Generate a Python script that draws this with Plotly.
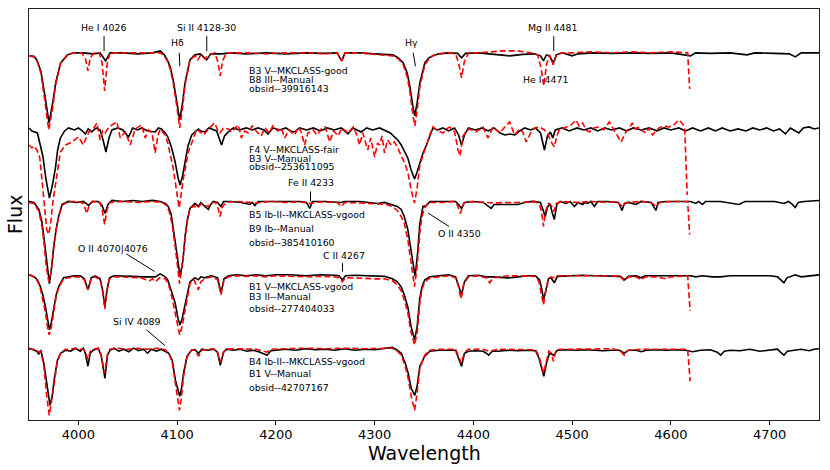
import plotly.graph_objects as go

# ---------------- data (wavelength [A], normalised flux) ----------------
ROW1_BLACK = [(3950,0.97),(3955,0.965),(3958,0.93),(3962,0.82),(3966,0.58),(3970.3,0.30),(3974,0.50),(3977,0.70),
    (3982,0.90),(3989,0.98),(3995,1.0),(4005,1.0),(4015,0.99),(4022,1.0),(4027.6,0.92),(4032,1.0),(4045,1.0),
    (4060,0.99),(4075,1.0),(4083,1.02),(4087,0.98),(4090,0.93),(4093,0.86),(4096,0.73),(4099.5,0.52),(4102.6,0.33),
    (4105.5,0.50),(4108,0.70),(4113,0.93),(4118,0.98),(4123.5,0.99),(4130,0.93),(4134,0.99),(4145,0.99),(4155,1.0),
    (4170,0.99),(4190,1.0),(4210,0.99),(4230,1.0),(4250,0.995),(4262,1.0),(4266.7,0.92),(4270,1.0),(4285,1.0),
    (4300,0.99),(4312,0.98),(4318.5,0.98),(4324,0.95),(4329,0.90),(4333,0.80),(4335.6,0.67),(4338.5,0.48),
    (4340.7,0.37),(4343,0.50),(4345.8,0.70),(4350.8,0.90),(4355,0.95),(4359,0.97),(4365,0.99),(4375,1.0),
    (4384,0.995),(4388,0.95),(4392,0.995),(4405,1.0),(4415,0.99),(4425,0.975),(4437,0.97),(4450,0.985),
    (4462,0.99),(4468,0.97),(4471,0.92),(4474,0.98),(4477,0.97),(4481,0.90),(4484,0.98),(4490,1.0),(4500,0.97),
    (4506,0.99),(4520,1.0),(4540,0.995),(4560,1.0),(4580,0.995),(4600,1.0),(4620,0.97),(4625,1.0),(4640,0.995),
    (4660,1.0),(4677,0.98),(4685,1.0),(4705,0.995),(4720,0.99),(4726,0.96),(4732,1.0),(4750,1.0)]
ROW1_RED = [(3950,0.97),(3955,0.96),(3958,0.92),(3962,0.80),(3966,0.52),(3970,0.23),(3974,0.45),(3977,0.68),
    (3982,0.90),(3989,0.98),(3995,1.0),(4003,1.0),(4007,0.95),(4009.7,0.82),(4012,0.95),(4016,1.0),(4021,1.0),
    (4024,0.90),(4026.6,0.62),(4029,0.88),(4032,1.0),(4045,1.0),(4060,0.995),(4075,1.0),(4083,1.0),(4087,0.97),
    (4090,0.92),(4093,0.84),(4096,0.70),(4099.5,0.48),(4102.6,0.25),(4105.5,0.45),(4108,0.68),(4113,0.93),
    (4118,0.97),(4121,0.93),(4124,0.98),(4128,0.94),(4131,0.97),(4138,1.0),(4141,0.92),(4143.7,0.77),(4146,0.92),
    (4150,1.0),(4170,1.0),(4190,0.99),(4210,1.0),(4230,1.0),(4250,0.99),(4262,1.0),(4266.7,0.92),(4270,1.0),
    (4285,1.0),(4300,0.985),(4312,0.975),(4318,0.97),(4324,0.94),(4329,0.88),(4333,0.76),(4335.6,0.62),
    (4338.5,0.40),(4340.7,0.27),(4343,0.42),(4345.8,0.66),(4350.8,0.88),(4355,0.94),(4359,0.97),(4365,0.99),
    (4375,1.0),(4382,0.99),(4385,0.90),(4388,0.75),(4391,0.92),(4395,1.0),(4405,1.0),(4415,1.01),(4430,1.02),
    (4445,1.02),(4458,1.0),(4465,0.98),(4468.5,0.85),(4471.3,0.67),(4474,0.88),(4477,0.98),(4481,0.88),(4484,0.98),
    (4490,1.0),(4500,1.0),(4520,1.01),(4540,1.0),(4560,1.01),(4580,1.0),(4600,1.01),(4617,1.0),(4619,0.64)]

ROW2_BLACK = [(3950,1.0),(3953,0.97),(3958.5,0.95),(3961,0.85),(3964,0.72),(3967,0.50),(3970.7,0.30),(3973.5,0.42),
    (3976.8,0.60),(3979,0.78),(3981.8,0.90),(3986,0.97),(3990,1.0),(3996,0.98),(4000,1.0),(4004,0.97),(4007,0.94),
    (4010,0.99),(4013.5,0.96),(4018,1.0),(4022,0.98),(4025,0.88),(4027.9,0.76),(4031,0.90),(4034,0.98),(4040,1.0),
    (4045,0.98),(4050.8,0.91),(4055,1.0),(4060,0.98),(4064,1.0),(4070,0.97),(4077.8,0.96),(4081,1.0),(4084,0.99),
    (4088,0.95),(4091,0.90),(4094.5,0.80),(4098,0.66),(4101,0.50),(4103,0.43),(4105.5,0.52),(4108,0.66),(4111,0.82),
    (4114.8,0.93),(4121.5,0.99),(4124,0.97),(4128,0.96),(4132,1.0),(4135,0.99),(4140,0.97),(4142.5,0.90),(4145,0.83),
    (4148,0.92),(4151.8,0.96),(4157,1.0),(4163,0.98),(4170,1.0),(4176,0.98),(4182,1.0),(4188,0.98),(4192,0.94),
    (4197,1.0),(4204,0.98),(4210,1.0),(4215,0.97),(4219,0.96),(4224,1.0),(4231,0.98),(4238,1.0),(4245,0.97),
    (4252,1.0),(4259,0.98),(4266,1.0),(4273,0.94),(4278,1.0),(4286.5,0.96),(4292,1.0),(4298,0.98),(4305,1.0),
    (4310,0.98),(4313.4,0.96),(4316,0.95),(4320,0.91),(4323.5,0.88),(4326.9,0.83),(4330,0.77),(4333.6,0.70),
    (4337,0.58),(4340.4,0.49),(4343,0.56),(4345.8,0.66),(4349,0.75),(4352.5,0.83),(4356,0.93),(4359,1.0),
    (4364,0.98),(4369,1.0),(4375,0.97),(4381,1.0),(4385,0.93),(4388,0.83),(4391,0.93),(4395,1.0),(4402,0.98),
    (4409,1.0),(4415,0.97),(4421,1.0),(4427,0.95),(4432,0.93),(4437,0.94),(4442,0.93),(4447,0.97),(4452,1.0),
    (4458,0.98),(4463,1.0),(4468,0.95),(4472,0.78),(4475,0.92),(4478,0.96),(4480.4,0.90),(4483,0.98),(4490,1.0),
    (4497,0.97),(4505,1.0),(4512,0.98),(4519,1.0),(4526,0.97),(4533,1.0),(4540,0.98),(4548,1.0),(4555,0.97),
    (4562,1.0),(4570,0.98),(4578,1.0),(4586,0.97),(4593,1.0),(4600,0.98),(4608,1.0),(4615,0.97),(4622,1.0),
    (4630,0.97),(4638,1.0),(4645,0.97),(4652,1.0),(4660,0.97),(4668,0.99),(4676,0.97),(4683,1.0),(4690,0.98),
    (4697,1.0),(4704,0.97),(4710,0.99),(4716,0.94),(4721,1.0),(4725,0.98),(4729.6,0.95),(4734,1.0),(4740,1.01),
    (4745,0.99),(4750,1.0)]
ROW2_RED = [(3950,0.83),(3953,0.80),(3955,0.82),(3958,0.78),(3961,0.70),(3963.5,0.45),(3966,0.15),(3968,-0.02),
    (3970,-0.06),(3972,0.05),(3974,0.25),(3976.8,0.43),(3979,0.62),(3981.8,0.76),(3987,0.83),(3993.5,0.86),
    (4000,0.91),(4005,0.83),(4008.5,0.92),(4012,0.98),(4015.5,1.0),(4018.8,1.05),(4022,0.88),(4024.5,0.97),
    (4027,0.95),(4030.5,1.0),(4034,1.03),(4039,1.06),(4042.4,0.90),(4047.5,0.96),(4052.5,0.83),(4057.6,0.99),
    (4064,1.03),(4067.7,0.90),(4071,0.98),(4074.5,0.95),(4077.8,0.75),(4080.5,0.92),(4082.8,0.99),(4087.9,0.93),
    (4090.5,0.85),(4093,0.73),(4096,0.60),(4099,0.40),(4102,0.20),(4104,0.33),(4106.4,0.50),(4111.4,0.76),
    (4116.5,0.91),(4120,0.99),(4123,0.96),(4127,0.93),(4131.6,0.99),(4135,1.02),(4138,1.05),(4141,0.98),
    (4143.4,0.95),(4147,1.0),(4151.8,0.99),(4155,0.96),(4158.6,1.0),(4162,1.03),(4165,0.90),(4168.5,0.97),
    (4172,0.95),(4176,1.02),(4180,0.97),(4185,0.92),(4189,1.0),(4193,0.95),(4197,1.02),(4202,0.97),(4205.5,1.0),
    (4209,0.90),(4213,0.98),(4219,0.93),(4223,1.01),(4226,0.95),(4229,0.83),(4232.5,0.95),(4237.7,0.98),
    (4241.5,0.93),(4246,0.99),(4250,1.01),(4254.5,0.86),(4258.5,0.97),(4263,0.92),(4267,1.0),(4273,0.95),
    (4278.5,1.01),(4282,0.93),(4284.8,0.83),(4288,0.95),(4291,0.84),(4293,0.78),(4296,0.90),(4300,0.71),
    (4303,0.85),(4305,0.83),(4307.5,0.92),(4310,0.75),(4313,0.88),(4316.8,0.83),(4320,0.86),(4323.5,0.80),
    (4327,0.72),(4330,0.66),(4333.6,0.56),(4337,0.38),(4340.4,0.25),(4343,0.40),(4345.8,0.63),(4349,0.73),
    (4351,0.80),(4355.9,0.93),(4359,1.01),(4364,0.97),(4369.3,0.95),(4373,0.99),(4376,1.01),(4381,0.96),
    (4384.5,0.78),(4386.5,0.72),(4389.5,0.92),(4393,0.97),(4396,0.99),(4403,0.96),(4409.7,1.01),(4414.8,0.90),
    (4419.8,1.01),(4426.6,0.95),(4431,1.0),(4436.7,1.06),(4441.7,0.93),(4446.8,0.99),(4450,0.96),(4453.5,0.86),
    (4458.6,0.96),(4462,1.0),(4467,1.01),(4472,0.98),(4475,0.95),(4478.8,0.86),(4482,0.81),(4484.5,0.92),
    (4487,0.98),(4494,1.01),(4499,1.03),(4504,1.08),(4507,1.02),(4510.7,1.05),(4514,0.98),(4517.5,0.96),
    (4522,1.0),(4527.6,1.01),(4532,0.98),(4537.7,1.06),(4542.7,0.98),(4546,0.93),(4549.5,0.86),(4554.5,0.96),
    (4558,1.0),(4561,1.05),(4564,0.99),(4568,1.01),(4571,0.97),(4574.7,0.95),(4578,1.0),(4581.4,0.93),
    (4585,0.97),(4588,1.0),(4593,1.02),(4598,1.01),(4603,1.03),(4608,1.08),(4612,1.04),(4614,1.0),(4616.5,0.33)]

ROW3_BLACK = [(3950,1.0),(3955,0.99),(3960,0.92),(3963,0.80),(3965,0.65),(3968,0.38),(3970.7,0.18),(3973,0.35),
    (3975,0.55),(3977.5,0.72),(3980,0.85),(3983.5,0.97),(3990,1.0),(3998,0.99),(4005,1.0),(4010.4,0.96),(4014,1.0),
    (4020,1.0),(4024,0.96),(4027,0.88),(4030,0.97),(4034,1.01),(4045,1.0),(4055,1.01),(4065,1.0),(4075,1.01),
    (4083,1.0),(4088,0.98),(4091,0.95),(4094,0.87),(4096,0.75),(4099.5,0.50),(4103,0.25),(4106,0.42),(4108,0.65),
    (4110.5,0.82),(4113,0.93),(4118,0.98),(4121.5,0.95),(4124,0.99),(4128,0.95),(4131.6,0.92),(4134,0.97),
    (4136.7,1.0),(4141,0.99),(4144.4,0.95),(4147,1.0),(4155,1.0),(4165,0.99),(4173.7,0.97),(4176,0.99),
    (4178.8,0.96),(4182,1.0),(4195,1.0),(4210,1.005),(4225,1.0),(4231,0.99),(4234.3,0.93),(4237,1.0),(4250,1.0),
    (4266,0.99),(4270,1.0),(4285,1.0),(4295,0.99),(4303.3,0.98),(4310,0.99),(4318,0.97),(4323,0.95),(4326.9,0.92),
    (4330,0.85),(4333.6,0.72),(4337,0.48),(4341,0.25),(4343.5,0.48),(4345.8,0.78),(4349,0.95),(4352.5,0.96),
    (4356,1.0),(4370,1.0),(4382,1.0),(4385,0.97),(4388,0.93),(4391,0.99),(4400,1.0),(4410,0.99),(4414,0.96),
    (4418,0.93),(4421,0.97),(4427,0.97),(4435,0.965),(4445,0.97),(4452,0.99),(4460,1.0),(4468,0.99),(4470,0.93),
    (4472.7,0.85),(4475,0.94),(4477.5,0.98),(4479.5,0.90),(4482,0.82),(4484.5,0.97),(4488,1.0),(4494,0.98),
    (4498,1.0),(4502.3,0.95),(4506,0.99),(4510.7,0.97),(4513,0.99),(4515.8,0.98),(4519,1.0),(4522.5,0.95),
    (4526,1.0),(4535,1.0),(4542,0.99),(4547,0.99),(4550.5,0.91),(4553,0.98),(4557,0.99),(4564.6,0.97),(4570,1.0),
    (4580,0.99),(4584.8,0.91),(4587,0.99),(4595,1.0),(4610,1.0),(4620,1.0),(4625.3,0.98),(4628,1.0),(4632,0.97),
    (4635,1.0),(4650,1.0),(4662,0.98),(4669,0.97),(4675,1.0),(4690,1.0),(4705,1.0),(4714.5,0.98),(4719,1.0),
    (4723,0.97),(4726,0.94),(4729,0.99),(4735,1.0),(4750,1.01)]
ROW3_RED = [(3950,0.99),(3955,0.98),(3960,0.90),(3963,0.76),(3965,0.60),(3967.5,0.35),(3970,0.20),(3972.5,0.30),
    (3975,0.52),(3977.5,0.72),(3980,0.85),(3983.5,0.96),(3990,1.0),(4000,1.0),(4005,0.98),(4008.7,0.88),(4011,0.97),
    (4015,1.0),(4022,0.99),(4024,0.92),(4026.6,0.77),(4029,0.92),(4032,0.99),(4045,1.0),(4060,0.99),(4075,1.0),
    (4085,0.99),(4089,0.96),(4092,0.90),(4095,0.77),(4098,0.55),(4100.5,0.32),(4102.5,0.18),(4105,0.35),
    (4107.5,0.60),(4110,0.80),(4113,0.92),(4117,0.96),(4120,0.93),(4124.8,0.98),(4128,0.96),(4131.6,0.95),
    (4135,0.99),(4139,0.99),(4141.5,0.93),(4143.4,0.85),(4146,0.95),(4150,0.99),(4160,1.0),(4170.3,0.99),
    (4180,0.985),(4195,1.0),(4210,0.99),(4225,0.995),(4234,0.98),(4245,0.995),(4262,0.99),(4266.3,0.95),
    (4270,0.99),(4285,0.985),(4295,0.98),(4305,0.975),(4312,0.97),(4318,0.95),(4323,0.91),(4326.9,0.85),
    (4330,0.78),(4333.6,0.62),(4337,0.38),(4340.4,0.15),(4343,0.35),(4345.8,0.69),(4348,0.85),(4350,0.92),
    (4354,0.99),(4370,0.99),(4380,1.0),(4383.5,0.97),(4386.9,0.88),(4390,0.98),(4395,1.0),(4410,0.99),
    (4420,0.985),(4435,0.99),(4450,0.99),(4462,1.0),(4467,0.97),(4469,0.90),(4471,0.75),(4473,0.90),(4476,0.98),
    (4479,0.96),(4481.4,0.90),(4484,0.98),(4490,1.0),(4505,0.99),(4520,1.0),(4535,0.99),(4545,1.0),(4551,0.95),
    (4555,0.99),(4570,1.0),(4580,0.99),(4585,0.95),(4589,0.99),(4600,1.0),(4610,1.0),(4617,1.0),(4619,0.67)]

ROW4_BLACK = [(3950,1.0),(3953,0.99),(3956.6,0.97),(3959,0.94),(3961.6,0.88),(3964,0.80),(3966.7,0.68),(3969,0.52),
    (3970.7,0.45),(3972.5,0.52),(3975,0.68),(3977.5,0.80),(3980,0.88),(3985,0.97),(3990,0.98),(3996,0.99),
    (4002,0.99),(4006,0.96),(4009.7,0.85),(4013,0.97),(4017,0.99),(4022,0.96),(4024.5,0.85),(4026.8,0.68),
    (4029,0.85),(4031.5,0.97),(4036,0.99),(4045,0.99),(4055,0.985),(4065,0.98),(4072,0.98),(4077.8,0.98),
    (4082.8,1.01),(4088,0.98),(4090.5,0.95),(4093,0.88),(4095.5,0.80),(4098,0.72),(4101,0.56),(4103,0.50),
    (4105,0.56),(4107.5,0.68),(4110,0.82),(4113,0.93),(4118,0.97),(4121.5,0.95),(4124,0.98),(4128,0.97),
    (4131,0.98),(4135,0.99),(4141,0.97),(4144.4,0.82),(4147.5,0.96),(4152,0.99),(4160,1.0),(4170,0.99),
    (4180,1.0),(4190,0.99),(4200,1.0),(4215,1.0),(4230,0.99),(4245,1.0),(4260,0.995),(4264,0.99),(4267.3,0.95),
    (4270.5,0.99),(4280,0.995),(4290,0.99),(4300,0.99),(4310,0.985),(4318,0.96),(4323,0.93),(4326.9,0.88),
    (4330,0.80),(4333.6,0.68),(4337,0.48),(4340.5,0.35),(4343,0.48),(4345.8,0.77),(4348,0.88),(4350.8,0.95),
    (4355.9,0.98),(4365,0.99),(4375,1.0),(4382,0.98),(4385,0.90),(4388,0.80),(4391,0.93),(4395,0.99),
    (4405,0.995),(4413,0.98),(4420,0.98),(4428,0.975),(4435,0.97),(4445,0.98),(4455,0.99),(4463,0.99),
    (4467,0.95),(4469.5,0.85),(4471,0.75),(4473.5,0.85),(4476,0.96),(4478.5,0.97),(4482,0.92),(4485,0.985),
    (4495,0.99),(4510,0.995),(4525,0.99),(4540,0.99),(4549,0.985),(4553,0.95),(4557,0.985),(4565,0.99),
    (4569.7,0.97),(4574,0.99),(4590,0.99),(4605,0.995),(4620,0.99),(4625.3,0.98),(4632,0.99),(4642,0.98),
    (4650.5,0.98),(4660,0.99),(4680,0.99),(4700,0.99),(4708,0.98),(4711,0.95),(4714.5,0.92),(4717.5,0.97),
    (4721,0.98),(4726,1.0),(4732,0.98),(4740,0.99),(4750,1.0)]
ROW4_RED = [(3950,1.0),(3953,0.99),(3956.6,0.96),(3959,0.93),(3961.6,0.86),(3964,0.76),(3966.7,0.62),(3969,0.46),
    (3970.5,0.40),(3972.5,0.47),(3975,0.64),(3977.5,0.78),(3980,0.87),(3985,0.96),(3990,0.97),(3996,0.98),
    (4002,0.98),(4006,0.95),(4009.7,0.85),(4013,0.96),(4017,0.98),(4022,0.95),(4024.5,0.84),(4026.8,0.66),
    (4029,0.84),(4031.5,0.96),(4036,0.98),(4045,0.98),(4055,0.975),(4063,0.97),(4068,0.95),(4072,0.94),
    (4075,0.96),(4078,0.93),(4082,0.97),(4088,0.96),(4090.5,0.92),(4093,0.85),(4095.5,0.74),(4098,0.62),
    (4101,0.46),(4102.6,0.40),(4105,0.48),(4107.5,0.62),(4110,0.78),(4113,0.91),(4117,0.95),(4121.5,0.85),
    (4124,0.93),(4128,0.96),(4131,0.97),(4135,0.98),(4141,0.95),(4144.4,0.80),(4147.5,0.95),(4152,0.98),
    (4160,0.99),(4170,0.985),(4180,0.99),(4190,0.98),(4200,0.99),(4215,0.985),(4230,0.98),(4245,0.985),
    (4260,0.98),(4264,0.97),(4267.3,0.93),(4270.5,0.97),(4280,0.97),(4290,0.965),(4300,0.96),(4310,0.96),
    (4318,0.94),(4323,0.90),(4326.9,0.84),(4330,0.75),(4333.6,0.62),(4337,0.42),(4340.5,0.30),(4343,0.42),
    (4345.8,0.72),(4348,0.86),(4350.8,0.93),(4355.9,0.97),(4365,0.98),(4375,0.99),(4382,0.97),(4385,0.88),
    (4387.5,0.76),(4390,0.90),(4395,0.98),(4405,0.99),(4413,0.97),(4416.5,0.92),(4420,0.97),(4428,0.98),
    (4435,0.99),(4445,0.99),(4455,0.99),(4463,0.985),(4466.5,0.93),(4469,0.80),(4471,0.70),(4473,0.82),
    (4476,0.96),(4478.5,0.98),(4481.5,0.97),(4485,0.99),(4495,0.99),(4510,0.99),(4525,0.985),(4540,0.99),
    (4549,0.98),(4553,0.94),(4557,0.98),(4565,0.98),(4569.7,0.95),(4574,0.98),(4585,0.98),(4595,0.96),
    (4600,0.98),(4610,0.99),(4617,0.99),(4619.5,0.64)]

ROW5_BLACK = [(3950,1.0),(3955,0.98),(3958,0.97),(3960,0.94),(3962,0.98),(3965,0.85),(3968.7,0.58),(3971.3,0.43),
    (3973.5,0.52),(3975.4,0.68),(3978.8,0.88),(3982,0.95),(3987,0.98),(3992,0.97),(3997,1.0),(4002,0.97),
    (4005,1.0),(4007,0.95),(4009.7,0.82),(4012,0.95),(4015,0.98),(4020,1.0),(4023,0.93),(4026.9,0.70),
    (4029.5,0.93),(4032,0.98),(4036,1.0),(4041,0.97),(4046,0.99),(4051,0.965),(4056,1.0),(4061,0.975),
    (4066,0.99),(4070,0.95),(4074,0.99),(4079,0.97),(4084,0.99),(4088,0.97),(4091.5,0.95),(4095,0.88),
    (4098.3,0.68),(4102.6,0.52),(4104.5,0.60),(4106.5,0.75),(4110,0.92),(4114.5,0.98),(4118,0.985),
    (4121.8,0.95),(4125,0.99),(4131,0.98),(4137,0.99),(4141,0.96),(4143.7,0.83),(4147,0.96),(4150,0.99),
    (4157,0.98),(4164,0.99),(4170.7,0.97),(4177,0.98),(4184,0.96),(4191,0.93),(4195,0.975),(4200,0.98),
    (4210,0.99),(4220,0.98),(4230,0.995),(4240,0.985),(4250,0.99),(4260,0.98),(4270,0.995),(4280,0.98),
    (4290,0.99),(4300,0.985),(4310,1.0),(4318,1.01),(4323,0.98),(4327,0.95),(4331,0.85),(4334,0.75),(4337,0.60),
    (4340.7,0.53),(4343,0.62),(4345.8,0.82),(4350.8,0.92),(4355.9,0.97),(4365,0.98),(4375,0.98),(4382,0.98),
    (4385,0.90),(4388,0.82),(4391,0.95),(4395,0.97),(4402,0.975),(4410,0.97),(4413,0.95),(4415.5,0.93),
    (4419,0.97),(4425,0.97),(4435,0.98),(4445,0.975),(4455,0.98),(4463,0.975),(4466.5,0.90),(4469,0.80),
    (4471.3,0.72),(4474,0.85),(4477,0.95),(4481.4,0.93),(4485,0.98),(4495,0.985),(4505,0.98),(4515,0.985),
    (4525,0.98),(4531,0.975),(4540,0.98),(4548,0.98),(4552.8,0.95),(4557,0.98),(4565,0.98),(4570,0.965),
    (4575,0.98),(4585,0.985),(4595,0.98),(4605,0.985),(4615,0.98),(4622,0.965),(4630,0.98),(4640,0.985),
    (4647,0.96),(4650.5,0.93),(4654,0.97),(4660,0.98),(4670,0.975),(4680,0.99),(4690,0.97),(4700,0.98),
    (4708,0.99),(4711,0.96),(4714.5,0.93),(4718,0.97),(4725,0.98),(4732,0.99),(4740,0.975),(4745,0.99),
    (4750,0.995)]
ROW5_RED = [(3950,0.99),(3955,0.99),(3958,0.98),(3960,0.96),(3962,0.97),(3965,0.82),(3968,0.52),(3970.5,0.33),
    (3973,0.48),(3975.4,0.65),(3978.8,0.87),(3982,0.95),(3987,0.99),(3992,0.99),(3997,1.0),(4002,0.99),
    (4005,0.99),(4007,0.96),(4009.7,0.89),(4012,0.97),(4015,0.99),(4020,1.0),(4023,0.94),(4026.6,0.75),
    (4029.5,0.94),(4032,0.99),(4040,1.0),(4050,0.99),(4060,1.0),(4070,0.99),(4080,1.0),(4088,0.985),
    (4091.5,0.95),(4095,0.86),(4098.3,0.64),(4100.5,0.48),(4102.4,0.38),(4104.5,0.52),(4106.5,0.72),
    (4110,0.91),(4114.5,0.98),(4118,0.98),(4121.8,0.92),(4125,0.98),(4131,0.99),(4137,0.995),(4141,0.95),
    (4143.7,0.86),(4147,0.96),(4150,0.99),(4160,0.995),(4170,0.99),(4180,0.99),(4191,0.96),(4195,0.99),
    (4210,0.995),(4230,1.0),(4250,0.995),(4270,1.0),(4290,0.995),(4310,1.0),(4318,1.0),(4323,0.97),(4327,0.93),
    (4331,0.82),(4334,0.70),(4337,0.52),(4340.5,0.38),(4343,0.55),(4345.8,0.80),(4350.8,0.93),(4355.9,0.98),
    (4365,0.99),(4375,0.99),(4382,0.99),(4385,0.92),(4387.8,0.85),(4391,0.96),(4395,0.99),(4410,0.99),
    (4415.5,0.97),(4425,0.99),(4440,0.99),(4455,0.99),(4463,0.985),(4466.5,0.92),(4469,0.82),(4471,0.75),
    (4473.5,0.85),(4476.5,0.97),(4479,0.95),(4481,0.87),(4483.5,0.97),(4487,0.99),(4500,0.99),(4520,0.99),
    (4540,0.995),(4548,0.98),(4552.8,0.93),(4557,0.98),(4570,0.99),(4585,0.99),(4600,0.99),(4610,0.995),
    (4617,0.99),(4619.5,0.67)]

BLACK_SERIES = [ROW1_BLACK, ROW2_BLACK, ROW3_BLACK, ROW4_BLACK, ROW5_BLACK]
RED_SERIES = [ROW1_RED, ROW2_RED, ROW3_RED, ROW4_RED, ROW5_RED]
OFFSETS = [2.95, 2.2, 1.466, 0.733, 0.0]

ROW_LABELS = [
    ["B3 V--MKCLASS-good", "B8 III--Manual", "obsid--39916143"],
    ["F4 V--MKCLASS-fair", "B3 V--Manual", "obsid--253611095"],
    ["B5 Ib-II--MKCLASS-vgood", "B9 Ib--Manual", "obsid--385410160"],
    ["B1 V--MKCLASS-vgood", "B3 II--Manual", "obsid--277404033"],
    ["B4 Ib-II--MKCLASS-vgood", "B1 V--Manual", "obsid--42707167"],
]
ROW_LABEL_Y = [[3.776, 3.683, 3.596], [2.983, 2.89, 2.81], [2.34, 2.193, 2.06],
               [1.616, 1.516, 1.40], [0.866, 0.75, 0.61]]
ROW_LABEL_X = 4170.3

# line identifications: text, text x, text y, leader (x0, y0, x1, y1) or None
LINE_IDS = [
    ("He I 4026", 4025.9, 4.20, (4026, 4.116, 4026, 3.966)),
    ("Hδ", 4100.5, 4.056, (4102.1, 3.95, 4102.8, 3.816)),
    ("Si II 4128-30", 4129.9, 4.20, (4130, 4.116, 4130, 3.966)),
    ("Hγ", 4337.3, 4.056, (4339.0, 3.95, 4341.4, 3.816)),
    ("Mg II 4481", 4480.2, 4.20, (4481.4, 4.116, 4481.4, 3.966)),
    ("He I 4471", 4473.3, 3.683, None),
    ("Fe II 4233", 4235.1, 2.66, (4235.1, 2.566, 4235.1, 2.466)),
    ("O II 4350", 4386.2, 2.15, (4354.1, 2.35, 4375.4, 2.216)),
    ("O II 4070|4076", 4035.0, 2.00, (4048.5, 1.943, 4077.2, 1.766)),
    ("C II 4267", 4268.5, 1.923, (4267.5, 1.85, 4267.5, 1.766)),
    ("Si IV 4089", 4059.3, 1.266, (4069.1, 1.183, 4087.7, 1.026)),
]

X_TICKS = [4000, 4100, 4200, 4300, 4400, 4500, 4600, 4700]

# ---------------- figure ----------------
FONT = "DejaVu Sans"
fig = go.Figure()

for blk, red, off in zip(BLACK_SERIES, RED_SERIES, OFFSETS):
    fig.add_trace(go.Scatter(x=[p[0] for p in blk], y=[p[1] + off for p in blk], mode="lines",
                             line=dict(color="black", width=1.6), hoverinfo="skip"))
    fig.add_trace(go.Scatter(x=[p[0] for p in red], y=[p[1] + off for p in red], mode="lines",
                             line=dict(color="#ff0000", width=1.6, dash="6px,3px"), hoverinfo="skip"))

annotations = []
shapes = []
for labels, ys in zip(ROW_LABELS, ROW_LABEL_Y):
    for txt, yy in zip(labels, ys):
        annotations.append(dict(x=ROW_LABEL_X, y=yy, xref="x", yref="y", text=txt, showarrow=False,
                                xanchor="left", yanchor="middle", font=dict(family=FONT, size=9.4, color="black")))
for txt, tx, ty, seg in LINE_IDS:
    annotations.append(dict(x=tx, y=ty, xref="x", yref="y", text=txt, showarrow=False,
                            xanchor="center", yanchor="middle", font=dict(family=FONT, size=9.4, color="black")))
    if seg is not None:
        shapes.append(dict(type="line", xref="x", yref="y", x0=seg[0], y0=seg[1], x1=seg[2], y1=seg[3],
                           line=dict(color="black", width=1)))

annotations.append(dict(x=0.5, y=-0.080, xref="paper", yref="paper", text="Wavelength", showarrow=False,
                        xanchor="center", yanchor="middle", font=dict(family=FONT, size=19, color="black")))
annotations.append(dict(x=-0.0185, y=0.502, xref="paper", yref="paper", text="Flux", showarrow=False,
                        textangle=-90, xanchor="center", yanchor="middle",
                        font=dict(family=FONT, size=19, color="black")))

fig.update_layout(
    width=830, height=470,
    margin=dict(l=29, r=11, t=9, b=50),
    paper_bgcolor="white", plot_bgcolor="white",
    showlegend=False,
    font=dict(family=FONT, color="black"),
    annotations=annotations, shapes=shapes,
    xaxis=dict(range=[3950, 4750], tickvals=X_TICKS, ticks="outside", ticklen=4, tickcolor="black",
               ticklabelstandoff=-2,
               tickfont=dict(family=FONT, size=13, color="black"), showgrid=False, zeroline=False,
               showline=True, linecolor="#222", linewidth=1, mirror=True),
    yaxis=dict(range=[0.283, 4.388], showticklabels=False, ticks="", showgrid=False, zeroline=False,
               showline=True, linecolor="#222", linewidth=1, mirror=True),
)

fig.write_html("out.html", config={"displayModeBar": False},
               post_script="document.body.style.margin='0';document.body.style.padding='0';")
